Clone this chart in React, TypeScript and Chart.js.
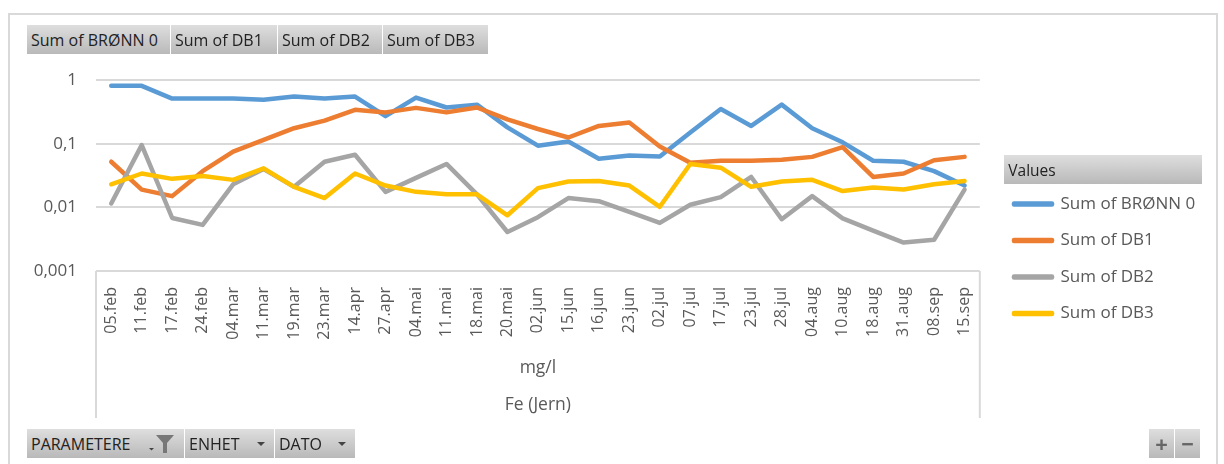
import React, { useEffect, useRef } from "react";
import { Chart, registerables } from "chart.js";

Chart.register(...registerables);

const dates = ["05.feb","11.feb","17.feb","24.feb","04.mar","11.mar","19.mar","23.mar","14.apr","27.apr","04.mai","11.mai","18.mai","20.mai","02.jun","15.jun","16.jun","23.jun","02.jul","07.jul","17.jul","23.jul","28.jul","04.aug","10.aug","18.aug","31.aug","08.sep","15.sep"];
const bronn0 = [0.81,0.81,0.51,0.51,0.51,0.49,0.55,0.51,0.55,0.27,0.53,0.37,0.41,0.18,0.093,0.108,0.058,0.065,0.063,0.15,0.35,0.19,0.41,0.175,0.105,0.054,0.052,0.037,0.022];
const db1 = [0.052,0.019,0.015,0.037,0.075,0.115,0.175,0.23,0.34,0.31,0.365,0.31,0.37,0.24,0.17,0.125,0.19,0.215,0.09,0.05,0.054,0.054,0.056,0.062,0.088,0.03,0.034,0.055,0.062];
const db2 = [0.0115,0.095,0.0068,0.0053,0.023,0.04,0.021,0.052,0.067,0.0175,0.029,0.048,0.016,0.0041,0.007,0.014,0.0125,0.0085,0.0057,0.011,0.0145,0.03,0.0065,0.015,0.0067,0.0043,0.0028,0.0031,0.019];
const db3 = [0.023,0.034,0.028,0.031,0.027,0.041,0.021,0.014,0.034,0.022,0.0175,0.016,0.016,0.0075,0.02,0.0255,0.026,0.022,0.0102,0.048,0.042,0.021,0.0255,0.027,0.018,0.0205,0.019,0.023,0.026];
const seriesNames = ["Sum of BRØNN 0","Sum of DB1","Sum of DB2","Sum of DB3"];
const axisRows = ["mg/l","Fe (Jern)"];
const legendTitle = "Values";

const FONT = "'Open Sans'";
const GRID = "#d9d9d9";
const TEXT = "#595959";

const topButtons = [
  { label: seriesNames[0], left: 27, width: 143 },
  { label: seriesNames[1], left: 171, width: 106 },
  { label: seriesNames[2], left: 278, width: 104 },
  { label: seriesNames[3], left: 383, width: 105 },
];
const bottomButtons = [
  { label: "PARAMETERE", left: 27, width: 157, icon: "filter" },
  { label: "ENHET", left: 185, width: 89, icon: "arrow" },
  { label: "DATO", left: 275, width: 80, icon: "arrow" },
];

const gradient = "linear-gradient(#dedede,#b9b9b9)";

const chrome = {
  id: "chrome",
  beforeDraw(chart: any) {
    const { ctx, chartArea, scales, legend } = chart;
    legend.left = 994.5;
    legend.width = 75;
    legend.right = 1220;
    legend.top = 155;
    legend.bottom = 420;
    ctx.save();
    const g = ctx.createLinearGradient(0, 155, 0, 184);
    g.addColorStop(0, "#dedede");
    g.addColorStop(1, "#b9b9b9");
    ctx.fillStyle = g;
    ctx.fillRect(1004, 155, 198, 29);
    ctx.strokeStyle = GRID;
    ctx.lineWidth = 2;
    ctx.beginPath();
    ctx.moveTo(chartArea.left, chartArea.bottom);
    ctx.lineTo(chartArea.left, scales.x.bottom);
    ctx.moveTo(chartArea.right, chartArea.bottom);
    ctx.lineTo(chartArea.right, scales.x.bottom);
    ctx.stroke();
    ctx.restore();
  },
};

const Button = ({ label, left, top, width, icon }: any) => (
  <div style={{ position: "absolute", left, top, width, height: 29, background: gradient, font: `16px ${FONT}`, lineHeight: "31px", color: "#222", paddingLeft: 4, boxSizing: "border-box", whiteSpace: "nowrap", overflow: "hidden" }}>
    {label}
    {icon === "arrow" && <span style={{ position: "absolute", right: 9, top: 13, width: 0, height: 0, borderLeft: "4px solid transparent", borderRight: "4px solid transparent", borderTop: "4px solid #444" }} />}
    {icon === "filter" && (
      <svg style={{ position: "absolute", right: 3, top: 5 }} width="32" height="20" viewBox="0 0 32 20">
        <path d="M0 14h5l-2.500 2.500z" fill="#444" />
        <path d="M7 1h18l-7 8v10h-4V9z" fill="#777" />
      </svg>
    )}
  </div>
);

export default function App() {
  const ref = useRef<HTMLCanvasElement>(null);
  useEffect(() => {
    document.body.style.margin = "0";
    const colors = ["#5B9BD5", "#ED7D31", "#A5A5A5", "#FFC000"];
    const values = [bronn0, db1, db2, db3];
    const chart = new Chart(ref.current!, {
      type: "line",
      data: {
        labels: dates,
        datasets: values.map((data, i) => ({
          label: seriesNames[i],
          data,
          borderColor: colors[i],
          backgroundColor: colors[i],
          borderWidth: 4.5,
          pointRadius: 0,
          tension: 0,
          borderJoinStyle: "round" as const,
          borderCapStyle: "round" as const,
          order: 4 - i,
        })),
      },
      plugins: [chrome],
      options: {
        responsive: false,
        animation: false,
        layout: { padding: { left: 0, right: 33.5, top: 80, bottom: 46 } },
        plugins: {
          tooltip: { enabled: false },
          legend: {
            position: "right",
            align: "start",
            title: { display: true, text: legendTitle, color: "#222", font: { family: FONT, size: 15.5 }, position: "center", padding: { top: 9, bottom: -6.5 } },
            labels: { boxWidth: 38, boxHeight: 1, padding: 19.5, color: TEXT, font: { family: FONT, size: 17 }, sort: (a: any, b: any) => a.datasetIndex - b.datasetIndex },
          },
        },
        scales: {
          x: {
            offset: true,
            grid: { display: false },
            border: { display: false },
            ticks: { autoSkip: false, minRotation: 90, maxRotation: 90, color: TEXT, padding: 8, font: { family: FONT, size: 16 } },
            title: { display: true, text: axisRows, color: TEXT, font: { family: FONT, size: 17.5, lineHeight: 2.11 }, padding: { top: 0, bottom: -5.5 } },
            afterFit(axis: any) { axis.height = 147; },
          },
          y: {
            type: "logarithmic",
            min: 0.001,
            max: 1,
            grid: { color: GRID, lineWidth: 2, drawTicks: false },
            border: { display: false },
            afterBuildTicks(axis: any) {
              axis.ticks = axis.ticks.filter((t: any) => Math.abs(Math.log10(t.value) - Math.round(Math.log10(t.value))) < 1e-6);
            },
            ticks: {
              autoSkip: false,
              color: TEXT,
              padding: 19,
              font: { family: FONT, size: 17 },
              callback: (v: any) => String(v).replace(".", ","),
            },
            afterFit(axis: any) { axis.width = 96; },
          },
        },
      },
    });
    return () => chart.destroy();
  }, []);
  return (
    <div style={{ position: "relative", width: 1224, height: 464, overflow: "hidden", background: "#fff" }}>
      <canvas ref={ref} width={1224} height={464} style={{ position: "absolute", left: 0, top: 0 }} />
      <div style={{ position: "absolute", left: 8, top: 13, width: 1210, height: 470, border: "2px solid #d9d9d9", boxSizing: "border-box", pointerEvents: "none" }} />
      {topButtons.map((b) => <Button key={b.label} {...b} top={25} />)}
      {bottomButtons.map((b) => <Button key={b.label} {...b} top={429} />)}
      <div style={{ position: "absolute", left: 1149, top: 429, width: 25, height: 29, background: gradient, font: `bold 22px ${FONT}`, lineHeight: "28px", textAlign: "center", color: "#666" }}>+</div>
      <div style={{ position: "absolute", left: 1175, top: 429, width: 25, height: 29, background: gradient, font: `bold 22px ${FONT}`, lineHeight: "28px", textAlign: "center", color: "#666" }}>−</div>
    </div>
  );
}
